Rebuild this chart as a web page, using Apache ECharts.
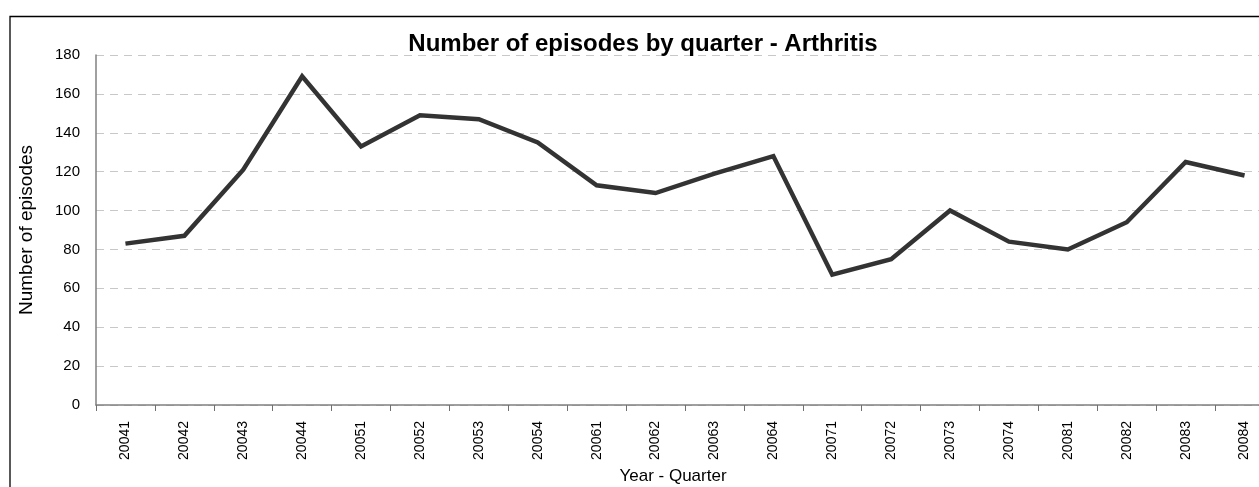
<!DOCTYPE html>
<html>
<head>
<meta charset="utf-8">
<style>
  html, body { margin: 0; padding: 0; background: #fff; }
  #main { width: 1259px; height: 487px; }
</style>
<script src="https://cdn.jsdelivr.net/npm/echarts@6/dist/echarts.min.js"></script>
</head>
<body>
<div id="main"></div>
<script>
// 季度
var quarters = ['20041','20042','20043','20044','20051','20052','20053','20054','20061','20062',
                '20063','20064','20071','20072','20073','20074','20081','20082','20083','20084'];
// 每季度的发作次数
var episodes = [83, 87, 121, 169, 133, 149, 147, 135, 113, 109,
                119, 128, 67, 75, 100, 84, 80, 94, 125, 118];
var yTicks = { min: 0, max: 180, interval: 20 };

var font = 'Arial, "Liberation Sans", sans-serif';
var myChart = echarts.init(document.getElementById('main'));

var option = {
    backgroundColor: '#fff',
    animation: false,
    title: {
        text: 'Number of episodes by quarter - Arthritis',
        left: 638,
        top: 27,
        textAlign: 'center',
        textStyle: { fontFamily: font, fontSize: 24, fontWeight: 'bold', color: '#000' }
    },
    graphic: [
        {   // 外框
            type: 'rect',
            shape: { x: 10, y: 16.5, width: 1300, height: 520 },
            style: { fill: 'none', stroke: '#000', lineWidth: 1.3 },
            z: -1
        }
    ],
    // 图表右侧被裁掉，所以绘图区比窗口宽
    grid: { left: 96, top: 55, width: 1178, bottom: 82, outerBoundsMode: 'none', containLabel: false },
    xAxis: {
        type: 'category',
        data: quarters,
        boundaryGap: true,
        name: 'Year - Quarter',
        nameLocation: 'middle',
        nameGap: 63,
        nameTextStyle: { fontFamily: font, fontSize: 17, color: '#000', padding: [0, 24, 0, 0] },
        axisLine: { lineStyle: { color: '#808080', width: 1.5 } },
        axisTick: { show: true, length: 6, inside: false, lineStyle: { color: '#707070' } },
        axisLabel: { rotate: 90, margin: 16, fontFamily: font, fontSize: 14, color: '#000' },
        splitLine: { show: false }
    },
    yAxis: {
        type: 'value',
        min: yTicks.min,
        max: yTicks.max,
        interval: yTicks.interval,
        name: 'Number of episodes',
        nameLocation: 'middle',
        nameGap: 60,
        nameRotate: 90,
        nameTextStyle: { fontFamily: font, fontSize: 19, color: '#000' },
        axisLine: { show: true, lineStyle: { color: '#808080', width: 1.5 } },
        axisTick: { show: false },
        axisLabel: { margin: 16, fontFamily: font, fontSize: 15, color: '#000' },
        splitLine: { show: true, lineStyle: { color: '#c8c8c8', type: [8, 6], width: 1 } }
    },
    series: [
        {
            name: 'Episodes',
            type: 'line',
            data: episodes,
            symbol: 'none',
            lineStyle: { color: '#333333', width: 4.5, join: 'miter' },
            z: 3
        }
    ]
};
myChart.setOption(option);
</script>
</body>
</html>
